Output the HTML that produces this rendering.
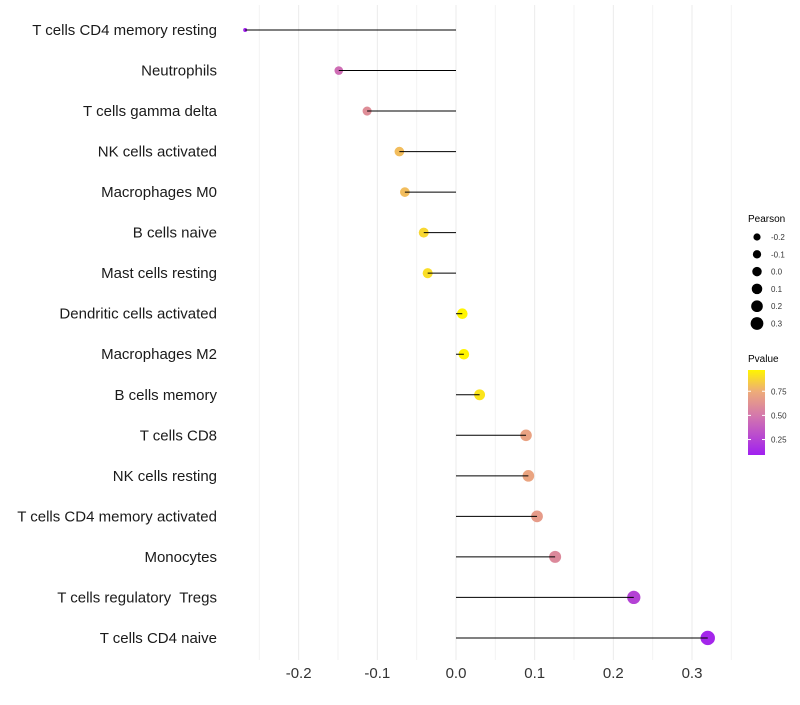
<!DOCTYPE html>
<html><head><meta charset="utf-8"><style>
body{margin:0;background:#fff;font-family:"Liberation Sans",sans-serif}
text{white-space:pre}
</style></head><body>
<svg id="chart" width="800" height="700" xmlns="http://www.w3.org/2000/svg"></svg>
<script>
const categories=["T cells CD4 memory resting","Neutrophils","T cells gamma delta","NK cells activated","Macrophages M0","B cells naive","Mast cells resting","Dendritic cells activated","Macrophages M2","B cells memory","T cells CD8","NK cells resting","T cells CD4 memory activated","Monocytes","T cells regulatory  Tregs","T cells CD4 naive"];
const pearson=[-0.268,-0.149,-0.113,-0.072,-0.065,-0.041,-0.036,0.008,0.010,0.030,0.089,0.092,0.103,0.126,0.226,0.320];
const pvalues=[0.1,0.45,0.6,0.8,0.8,0.88,0.9,0.98,0.97,0.92,0.7,0.71,0.67,0.58,0.25,0.12];
const xTicks=[-0.2,-0.1,0.0,0.1,0.2,0.3];
const xTickLabels=["-0.2","-0.1","0.0","0.1","0.2","0.3"];
const sizeLegend=[-0.2,-0.1,0.0,0.1,0.2,0.3];
const pTicks=[0.25,0.5,0.75];

const svg=document.getElementById('chart');
const NS="http://www.w3.org/2000/svg";
function mk(t,a,name,parent){const e=document.createElementNS(NS,t);for(const k in a)e.setAttribute(k,a[k]);


(parent||svg).appendChild(e);return e;}
const x=v=>456+v*786.7;
const y=i=>30+i*40.53;
const r=v=>v< -0.2?2:4+(v+0.2)*6.2;
const stops=[[0.09,[160,32,240]],[0.5,[212,120,172]],[0.75,[238,172,120]],[0.97,[255,245,0]]];
function col(p){if(p<=stops[0][0])return `rgb(${stops[0][1]})`;for(let i=1;i<stops.length;i++){if(p<=stops[i][0]){const[a,ca]=stops[i-1],[b,cb]=stops[i];const t=(p-a)/(b-a);return `rgb(${ca.map((c,j)=>Math.round(c+(cb[j]-c)*t)).join(',')})`;}}return `rgb(${stops[3][1]})`;}
for(let v=-0.25;v<=0.351;v+=0.05){mk('line',{x1:x(v),x2:x(v),y1:5,y2:660,stroke:Math.abs(Math.round(v*20))%2?'#f3f3f3':'#ebebeb','stroke-width':1},'grid-line');}
categories.forEach((c,i)=>{
 const t=mk('text',{x:217,y:y(i)+5,'text-anchor':'end','font-size':15,fill:'#1a1a1a'},'category-label');t.textContent=c;
 mk('circle',{cx:x(pearson[i]),cy:y(i),r:r(pearson[i]),fill:col(pvalues[i])},'lollipop-point');
 mk('line',{x1:x(0),x2:x(pearson[i]),y1:y(i),y2:y(i),stroke:'#000','stroke-width':1},'lollipop-stem');
});
xTicks.forEach((v,i)=>{const t=mk('text',{x:x(v),y:678,'text-anchor':'middle','font-size':15,fill:'#333'},'x-tick-label');t.textContent=xTickLabels[i];});
let tt=mk('text',{x:748,y:222,'font-size':10,fill:'#000'},'size-legend-title');tt.textContent="Pearson";
sizeLegend.forEach((v,i)=>{const cy=237+i*17.3;mk('circle',{cx:757,cy:cy,r:r(v)*0.9,fill:'#000'},'size-legend-dot');const t=mk('text',{x:771,y:cy+3,'font-size':8,fill:'#333'},'size-legend-label');t.textContent=v.toFixed(1);});
tt=mk('text',{x:748,y:362,'font-size':10,fill:'#000'},'color-legend-title');tt.textContent="Pvalue";
const defs=mk('defs',{},'defs');const g=mk('linearGradient',{id:'pg',x1:0,y1:1,x2:0,y2:0},'gradient',defs);
stops.forEach(s=>mk('stop',{offset:(s[0]-0.09)/0.88,'stop-color':`rgb(${s[1]})`},'gradient-stop',g));
mk('rect',{x:748,y:370,width:17,height:85,fill:'url(#pg)'},'color-bar');
const py=p=>455-(p-0.09)/0.88*85;
pTicks.forEach(p=>{mk('line',{x1:748,x2:751,y1:py(p),y2:py(p),stroke:'#fff'},'color-tick');mk('line',{x1:762,x2:765,y1:py(p),y2:py(p),stroke:'#fff'},'color-tick');const t=mk('text',{x:771,y:py(p)+3,'font-size':8,fill:'#333'},'color-legend-label');t.textContent=p.toFixed(2);});
</script>
</body></html>
